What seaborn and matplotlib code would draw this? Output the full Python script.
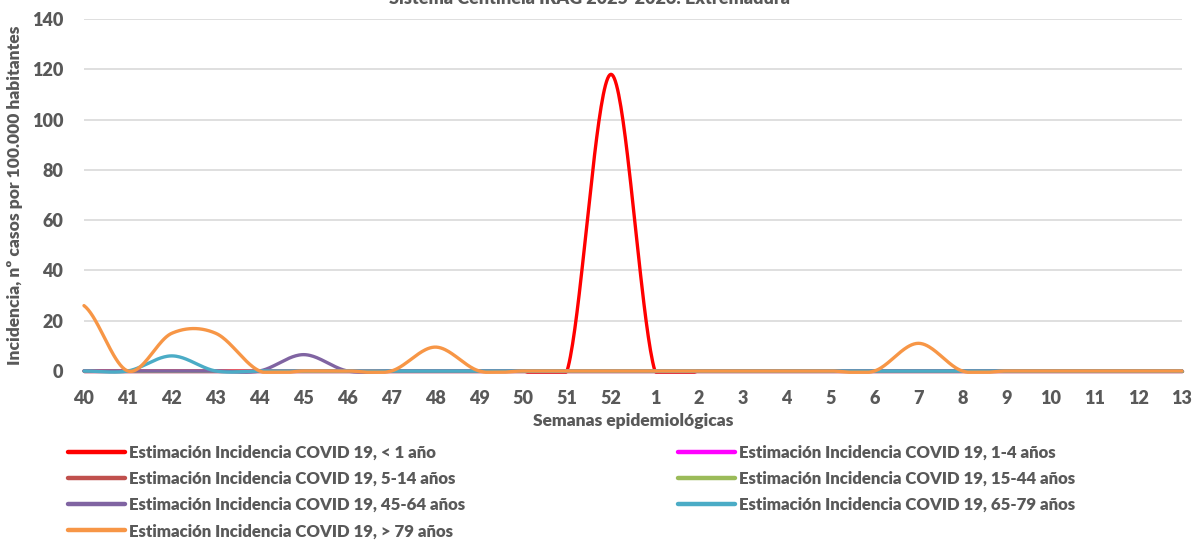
import numpy as np
import pandas as pd
import seaborn as sns
import matplotlib.pyplot as plt
from matplotlib.lines import Line2D

weeks = ['40', '41', '42', '43', '44', '45', '46', '47', '48', '49', '50', '51', '52',
         '1', '2', '3', '4', '5', '6', '7', '8', '9', '10', '11', '12', '13']

menor_1 = [0, 0, 0, 0, 0, 0, 0, 0, 0, 0, 0, 0, 118, 0, 0, 0, 0, 0, 0, 0, 0, 0, 0, 0, 0, 0]
de_1_4 = [0] * 26
de_5_14 = [0] * 26
de_15_44 = [0] * 26
de_45_64 = [0, 0, 0, 0, 0, 6.5, 0, 0, 0, 0, 0, 0, 0, 0, 0, 0, 0, 0, 0, 0, 0, 0, 0, 0, 0, 0]
de_65_79 = [0, 0, 6, 0, 0, 0, 0, 0, 0, 0, 0, 0, 0, 0, 0, 0, 0, 0, 0, 0, 0, 0, 0, 0, 0, 0]
mayor_79 = [26, 0, 15, 15, 0, 0, 0, 0, 9.5, 0, 0, 0, 0, 0, 0, 0, 0, 0, 0, 11, 0, 0, 0, 0, 0, 0]

labels = ['Estimación Incidencia COVID 19, < 1 año',
          'Estimación Incidencia COVID 19, 1-4 años',
          'Estimación Incidencia COVID 19, 5-14 años',
          'Estimación Incidencia COVID 19, 15-44 años',
          'Estimación Incidencia COVID 19, 45-64 años',
          'Estimación Incidencia COVID 19, 65-79 años',
          'Estimación Incidencia COVID 19, > 79 años']
series = [menor_1, de_1_4, de_5_14, de_15_44, de_45_64, de_65_79, mayor_79]
colors = ['#FF0000', '#FF00FF', '#C0504D', '#9BBB59', '#8064A2', '#4BACC6', '#F79646']

gray = '#595959'


def smooth(y, n=40):
    # excel-like smoothed line (bezier through the points)
    y = np.asarray(y, float)
    ext = np.concatenate([[y[0]], y, [y[-1]]])
    xs, ys = [], []
    t = np.linspace(0, 1, n, endpoint=False)
    for i in range(len(y) - 1):
        p0, p3 = y[i], y[i + 1]
        p1 = p0 + (ext[i + 2] - ext[i]) / 6
        p2 = p3 - (ext[i + 3] - ext[i + 1]) / 6
        b = (1 - t) ** 3 * p0 + 3 * (1 - t) ** 2 * t * p1 + 3 * (1 - t) * t ** 2 * p2 + t ** 3 * p3
        xs.append(i + t)
        ys.append(b)
    xs.append([len(y) - 1])
    ys.append([y[-1]])
    return np.concatenate(xs), np.maximum(np.concatenate(ys), -0.5)


sns.set_theme(style='white')
plt.rcParams['font.family'] = ['Lato', 'DejaVu Sans']
plt.rcParams['font.weight'] = 'bold'

fig = plt.figure(figsize=(12.03, 5.43), dpi=100)
ax = fig.add_axes([0.0698, 0.3168, 0.9127, 0.6482])

for vals, lab, col in zip(series, labels, colors):
    sx, sy = smooth(vals)
    df = pd.DataFrame({'x': sx, 'y': sy})
    sns.lineplot(data=df, x='x', y='y', color=col, linewidth=2.4, sort=False,
                 estimator=None, ax=ax, clip_on=False, zorder=3)

ax.set_xlim(0, 25)
ax.set_ylim(0, 140)
ax.set_yticks(range(0, 141, 20))
ax.set_xticks(range(26))
ax.set_xticklabels(weeks)
ax.yaxis.grid(True, color='#D9D9D9', linewidth=1.2)
ax.set_axisbelow(True)
for s in ax.spines.values():
    s.set_visible(False)
ax.tick_params(axis='both', length=0, labelsize=13, labelcolor=gray)
ax.tick_params(axis='x', pad=14)
ax.tick_params(axis='y', pad=15)
for tl in ax.get_xticklabels() + ax.get_yticklabels():
    tl.set_fontweight('heavy')

ax.set_xlabel('Semanas epidemiológicas', fontsize=12.5, fontweight='heavy', color=gray, labelpad=4)
ax.set_ylabel('Incidencia, nº casos por 100.000 habitantes', fontsize=12.5, fontweight='heavy',
              color=gray, labelpad=6)

fig.text(0.49, 1.003, 'Sistema Centinela IRAG 2025-2026: Extremadura', ha='center', va='center',
         fontsize=13, fontweight='heavy', color=gray)

handles = [Line2D([0], [0], color=c, linewidth=3.2) for c in colors]
left_idx = [0, 2, 4, 6]
right_idx = [1, 3, 5]
for idx, xpos in [(left_idx, 68 / 1203), (right_idx, 678 / 1203)]:
    leg = fig.legend([handles[i] for i in idx], [labels[i] for i in idx], loc='upper left',
                     bbox_to_anchor=(xpos, 1 - 445 / 543), frameon=False, borderpad=0,
                     borderaxespad=0, handlelength=3.4, handletextpad=0.25,
                     labelspacing=0.6, fontsize=12.1)
    for txt in leg.get_texts():
        txt.set_color(gray)
        txt.set_fontweight('heavy')

fig.savefig('out.png', dpi=100)
